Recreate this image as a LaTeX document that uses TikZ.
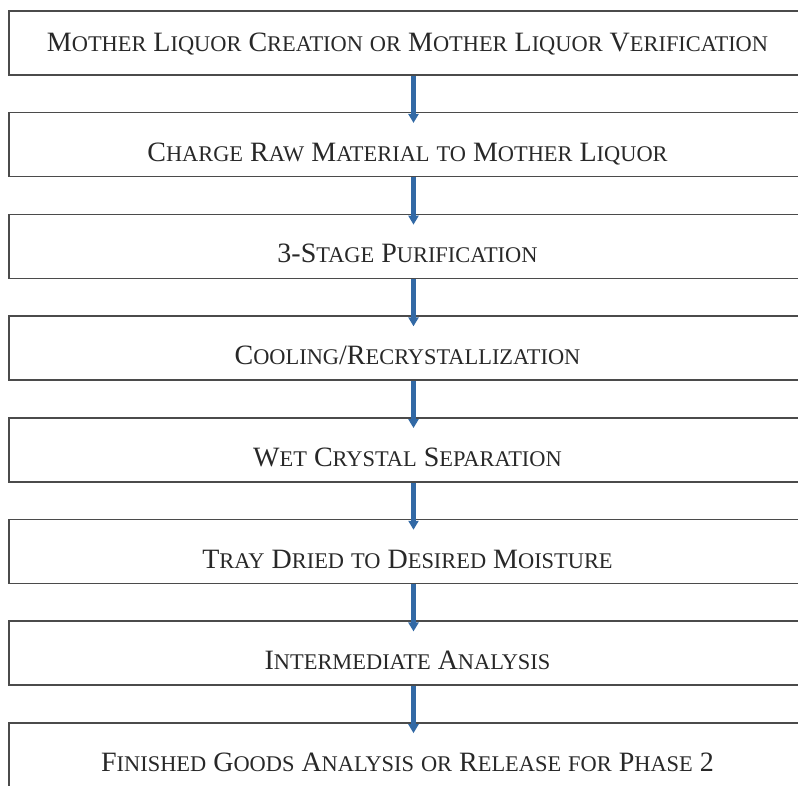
\documentclass[tikz,border=0pt]{standalone}
\usepackage{fontspec}
\setmainfont{Liberation Serif}
\usetikzlibrary{arrows.meta}
\definecolor{flowblue}{RGB}{50,105,165}
\definecolor{boxline}{RGB}{75,75,75}
\definecolor{textgray}{RGB}{40,40,40}
\newcommand\smc[2]{#1{\fontsize{22.4}{26}\selectfont #2}}
\tikzset{
  stepbox/.style={draw=boxline, line width=1.5pt, minimum width=797pt,
    minimum height=64pt, inner sep=0pt, text height=33pt, text depth=0pt,
    font=\fontsize{28}{32}\selectfont, text=textgray},
  flow/.style={draw=flowblue, line width=4.5pt,
    -{Triangle[width=10pt,length=9pt]}}
}
\begin{document}
\begin{tikzpicture}[x=1pt,y=-1pt]
  \useasboundingbox (0,0) rectangle (798,786);
  \clip (0,0) rectangle (798,786);
  \fill[white] (0,0) rectangle (798,786);
  \node[stepbox, text height=18pt] (mlc) at (407.5,43)
    {\smc{M}{OTHER} \smc{L}{IQUOR} \smc{C}{REATION} \smc{}{OR} \smc{M}{OTHER} \smc{L}{IQUOR} \smc{V}{ERIFICATION}};
  \node[stepbox] (charge) at (407.5,144.7)
    {\smc{C}{HARGE} \smc{R}{AW} \smc{M}{ATERIAL} \smc{}{TO} \smc{M}{OTHER} \smc{L}{IQUOR}};
  \node[stepbox] (purif) at (407.5,246.4)
    {\smc{3-S}{TAGE} \smc{P}{URIFICATION}};
  \node[stepbox] (cool) at (407.5,348.1)
    {\smc{C}{OOLING}/\smc{R}{ECRYSTALLIZATION}};
  \node[stepbox] (wet) at (407.5,449.8)
    {\smc{W}{ET} \smc{C}{RYSTAL} \smc{S}{EPARATION}};
  \node[stepbox] (tray) at (407.5,551.5)
    {\smc{T}{RAY} \smc{D}{RIED} \smc{}{TO} \smc{D}{ESIRED} \smc{M}{OISTURE}};
  \node[stepbox] (inter) at (407.5,653.2)
    {\smc{I}{NTERMEDIATE} \smc{A}{NALYSIS}};
  \node[stepbox] (fin) at (407.5,754.9)
    {\smc{F}{INISHED} \smc{G}{OODS} \smc{A}{NALYSIS} \smc{}{OR} \smc{R}{ELEASE} \smc{}{FOR} \smc{P}{HASE} 2};
  % arrows
  \draw[flow] ([xshift=6pt]mlc.south) -- ([xshift=6pt,yshift=-11pt]charge.north);
  \draw[flow] ([xshift=6pt]charge.south) -- ([xshift=6pt,yshift=-11pt]purif.north);
  \draw[flow] ([xshift=6pt]purif.south) -- ([xshift=6pt,yshift=-11pt]cool.north);
  \draw[flow] ([xshift=6pt]cool.south) -- ([xshift=6pt,yshift=-11pt]wet.north);
  \draw[flow] ([xshift=6pt]wet.south) -- ([xshift=6pt,yshift=-11pt]tray.north);
  \draw[flow] ([xshift=6pt]tray.south) -- ([xshift=6pt,yshift=-11pt]inter.north);
  \draw[flow] ([xshift=6pt]inter.south) -- ([xshift=6pt,yshift=-11pt]fin.north);
\end{tikzpicture}
\end{document}
